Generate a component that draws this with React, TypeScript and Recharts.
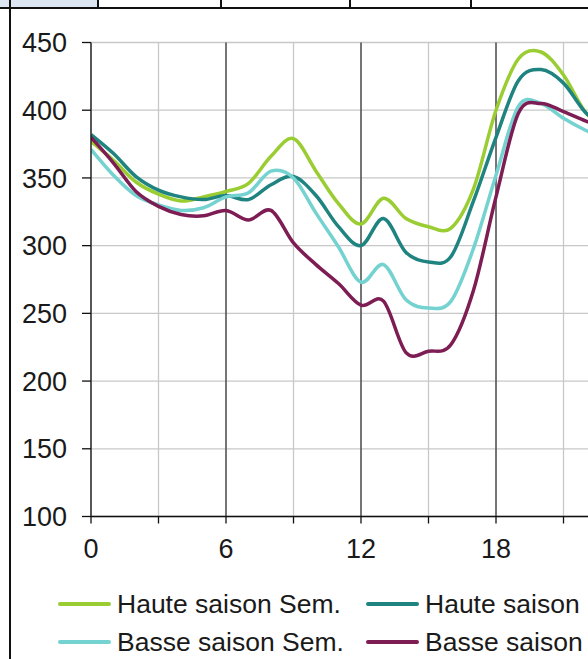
import React from "react";
import {
  LineChart,
  Line,
  XAxis,
  YAxis,
  CartesianGrid,
  ReferenceLine,
} from "recharts";

// Hour of day
const hours = [0, 1, 2, 3, 4, 5, 6, 7, 8, 9, 10, 11, 12, 13, 14, 15, 16, 17, 18, 19, 20, 21, 22, 23, 24];

// Load profiles per season / day type
const hauteSem = [377, 363, 347, 338, 333, 336, 340, 346, 366, 379, 355, 331, 316, 335, 320, 314, 313, 342, 400, 438, 443, 426, 398, 385, 378];
const haute = [382, 368, 351, 341, 336, 334, 337, 334, 345, 351, 337, 314, 300, 320, 295, 288, 292, 333, 380, 422, 430, 420, 398, 388, 382];
const basseSem = [371, 352, 337, 330, 326, 328, 336, 339, 355, 350, 324, 299, 273, 286, 260, 254, 259, 298, 352, 403, 405, 394, 385, 378, 371];
const basse = [380, 361, 340, 329, 323, 322, 326, 319, 326, 302, 286, 272, 256, 259, 221, 222, 227, 267, 336, 398, 405, 399, 392, 386, 380];

const xTicks = [0, 3, 6, 9, 12, 15, 18, 21, 24];
const xLabelled = [0, 6, 12, 18];
const majorHours = [6, 12, 18, 24];
const yTicks = [100, 150, 200, 250, 300, 350, 400, 450];

const series = [
  { key: "hauteSem", name: "Haute saison Sem.", color: "#9acd32", values: hauteSem },
  { key: "haute", name: "Haute saison", color: "#1f8480", values: haute },
  { key: "basseSem", name: "Basse saison Sem.", color: "#74d2d0", values: basseSem },
  { key: "basse", name: "Basse saison", color: "#7d1d54", values: basse },
];

const data = hours.map((h, i) => {
  const row: Record<string, number> = { h };
  series.forEach((s) => {
    row[s.key] = s.values[i];
  });
  return row;
});

// Smooth Catmull-Rom style curve (passes through every point), usable as a d3 curve factory
function smoothCurve(context: any) {
  let pts: [number, number][] = [];
  return {
    areaStart() {},
    areaEnd() {},
    lineStart() {
      pts = [];
    },
    point(x: number, y: number) {
      pts.push([+x, +y]);
    },
    lineEnd() {
      const n = pts.length;
      if (!n) return;
      context.moveTo(pts[0][0], pts[0][1]);
      if (n === 1) return;
      const k = 1 / 6;
      for (let i = 0; i < n - 1; i++) {
        const p0 = pts[Math.max(0, i - 1)];
        const p1 = pts[i];
        const p2 = pts[i + 1];
        const p3 = pts[Math.min(n - 1, i + 2)];
        context.bezierCurveTo(
          p1[0] + (p2[0] - p0[0]) * k,
          p1[1] + (p2[1] - p0[1]) * k,
          p2[0] - (p3[0] - p1[0]) * k,
          p2[1] - (p3[1] - p1[1]) * k,
          p2[0],
          p2[1]
        );
      }
    },
  };
}

const FONT = "'Liberation Sans', Arial, sans-serif";
const tickStyle = { fontSize: 27, fill: "#1a1a1a", fontFamily: FONT };

// Legend laid out in two columns, row by row
const legendPos = [
  { left: 58, top: 604 },
  { left: 366, top: 604 },
  { left: 58, top: 642 },
  { left: 366, top: 642 },
];

export default function App() {
  return (
    <div
      style={{
        position: "fixed",
        left: 0,
        top: 0,
        width: 588,
        height: 659,
        overflow: "hidden",
        background: "#ffffff",
        fontFamily: FONT,
      }}
    >
      {/* header row of the surrounding table */}
      <div style={{ position: "absolute", left: 0, top: 0, width: 97, height: 6.5, background: "#dce6f2" }} />
      <div style={{ position: "absolute", left: 0, top: 6.5, width: 588, height: 2, background: "#111" }} />
      {[96.5, 219.5, 348.5, 469.5].map((x) => (
        <div key={x} style={{ position: "absolute", left: x, top: 0, width: 2, height: 7, background: "#111" }} />
      ))}
      <div style={{ position: "absolute", left: 8.5, top: 0, width: 2, height: 659, background: "#111" }} />

      <div style={{ position: "absolute", left: 0, top: 0 }}>
        <LineChart
          width={641}
          height={600}
          data={data}
          margin={{ top: 42.5, right: 10, bottom: 33.5, left: 0 }}
        >
          <CartesianGrid stroke="#c8c8c8" strokeWidth={1.3} />
          {majorHours.map((h) => (
            <ReferenceLine key={h} x={h} stroke="#111" strokeWidth={1} />
          ))}
          <XAxis
            type="number"
            dataKey="h"
            domain={[0, 24]}
            ticks={xTicks}
            interval={0}
            tickFormatter={(v: number) => (xLabelled.includes(v) ? String(v) : "")}
            height={50}
            tickSize={7}
            tickMargin={15}
            tick={tickStyle}
            axisLine={{ stroke: "#111", strokeWidth: 1.3 }}
            tickLine={{ stroke: "#111", strokeWidth: 1.3 }}
            allowDataOverflow
          />
          <YAxis
            type="number"
            domain={[100, 450]}
            ticks={yTicks}
            interval={0}
            width={91}
            tickSize={9}
            tickMargin={15}
            tick={tickStyle}
            axisLine={{ stroke: "#111", strokeWidth: 1.3 }}
            tickLine={{ stroke: "#111", strokeWidth: 1.3 }}
            allowDataOverflow
          />
          {series.map((s) => (
            <Line
              key={s.key}
              type={smoothCurve as any}
              dataKey={s.key}
              name={s.name}
              stroke={s.color}
              strokeWidth={3.5}
              dot={false}
              activeDot={false}
              isAnimationActive={false}
            />
          ))}
        </LineChart>
      </div>

      {series.map((s, i) => (
        <div
          key={s.key}
          style={{
            position: "absolute",
            left: legendPos[i].left,
            top: legendPos[i].top - 16,
            height: 32,
            display: "flex",
            alignItems: "center",
            whiteSpace: "nowrap",
          }}
        >
          <div style={{ width: 53, height: 4, borderRadius: 2, background: s.color }} />
          <span style={{ marginLeft: 6, fontSize: 26.5, color: "#1a1a1a", lineHeight: "32px" }}>{s.name}</span>
        </div>
      ))}
    </div>
  );
}
